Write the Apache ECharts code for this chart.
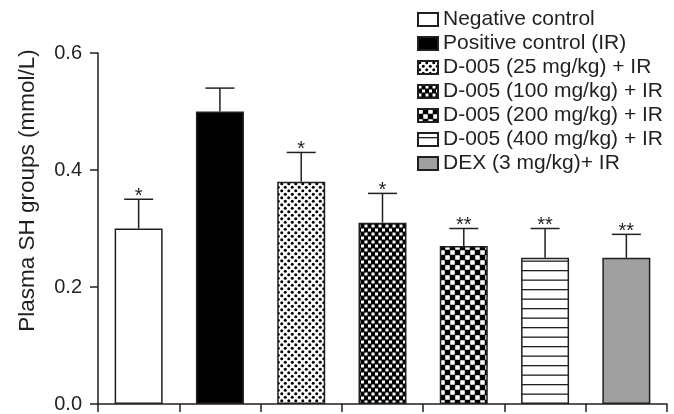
<!DOCTYPE html>
<html>
<head>
<meta charset="utf-8">
<title>Plasma SH groups</title>
<script src="https://cdn.jsdelivr.net/npm/echarts@6/dist/echarts.min.js"></script>
<style>
  html, body { margin: 0; padding: 0; background: #ffffff; }
  #chart { width: 674px; height: 414px; }
</style>
</head>
<body>
<div id="chart"></div>
<script>
// Group names, means, error (upper minus mean), significance marks
const groups = [
  'Negative control',
  'Positive control (IR)',
  'D-005 (25 mg/kg) + IR',
  'D-005 (100 mg/kg) + IR',
  'D-005 (200 mg/kg) + IR',
  'D-005 (400 mg/kg) + IR',
  'DEX (3 mg/kg)+ IR'
];
const means = [0.30, 0.50, 0.38, 0.31, 0.27, 0.25, 0.25];
const errors = [0.05, 0.04, 0.05, 0.05, 0.03, 0.05, 0.04];
const marks = ['*', '', '*', '*', '**', '**', '**'];
const yTicks = [0.0, 0.2, 0.4, 0.6];

const INK = '#231f20';
const FONT = '"Liberation Sans", Arial, Helvetica, sans-serif';

// Small canvas tiles used as repeating fills
function tile(w, h, bg, draw) {
  const c = document.createElement('canvas');
  c.width = w; c.height = h;
  const ctx = c.getContext('2d');
  ctx.fillStyle = bg;
  ctx.fillRect(0, 0, w, h);
  draw(ctx);
  return { image: c, repeat: 'repeat' };
}

const fills = [
  '#ffffff',
  '#000000',
  // fine staggered dots
  tile(7, 7, '#ffffff', ctx => {
    ctx.fillStyle = '#000000';
    [[1.75, 1.75], [5.25, 5.25]].forEach(([x, y]) => {
      ctx.beginPath(); ctx.arc(x, y, 1.5, 0, Math.PI * 2); ctx.fill();
    });
  }),
  // small white squares on black
  tile(7, 8, '#000000', ctx => {
    ctx.fillStyle = '#ffffff';
    ctx.fillRect(0.5, 0.5, 3, 3);
    ctx.fillRect(4, 4.5, 3, 3);
  }),
  // coarse check
  tile(10, 10, '#000000', ctx => {
    ctx.fillStyle = '#ffffff';
    ctx.fillRect(0.25, 0.25, 4.5, 4.5);
    ctx.fillRect(5.25, 5.25, 4.5, 4.5);
  }),
  // horizontal lines
  tile(4, 19, '#ffffff', ctx => {
    ctx.fillStyle = INK;
    ctx.fillRect(0, 4, 4, 1.3);
    ctx.fillRect(0, 13.5, 4, 1.3);
  }),
  '#a0a0a0'
];

const barSeries = groups.map((name, i) => ({
  name: name,
  type: 'bar',
  barWidth: 48,
  barGap: '-100%',
  itemStyle: { color: fills[i], borderColor: INK, borderWidth: 1.5 },
  data: groups.map((_, j) => (j === i ? means[j] : null)),
  z: 2
}));

const errorSeries = {
  type: 'custom',
  name: 'error',
  z: 3,
  silent: true,
  data: means.map((m, i) => [i, m, m + errors[i], marks[i]]),
  renderItem: function (params, api) {
    const base = api.coord([api.value(0), api.value(1)]);
    const top = api.coord([api.value(0), api.value(2)]);
    const half = 14.5;
    const style = { stroke: INK, lineWidth: 1.5 };
    const children = [
      { type: 'line', shape: { x1: base[0], y1: base[1], x2: top[0], y2: top[1] }, style: style },
      { type: 'line', shape: { x1: top[0] - half, y1: top[1], x2: top[0] + half, y2: top[1] }, style: style }
    ];
    const mark = marks[params.dataIndex];
    if (mark) {
      children.push({
        type: 'text',
        style: {
          text: mark,
          x: top[0],
          y: top[1] + 7,
          align: 'center',
          verticalAlign: 'bottom',
          fill: INK,
          font: '20px ' + FONT
        }
      });
    }
    return { type: 'group', children: children };
  }
};

const chart = echarts.init(document.getElementById('chart'), null, { renderer: 'canvas' });
chart.setOption({
  animation: false,
  backgroundColor: '#ffffff',
  textStyle: { fontFamily: FONT, color: INK },
  grid: { left: 98, right: 7, top: 53, bottom: 7, containLabel: false },
  legend: {
    orient: 'vertical',
    left: 417,
    top: 9,
    padding: 0,
    itemWidth: 20,
    itemHeight: 13,
    itemGap: 3,
    icon: 'rect',
    selectedMode: false,
    data: groups,
    textStyle: { fontSize: 21, lineHeight: 21, color: INK, fontFamily: FONT }
  },
  xAxis: {
    type: 'category',
    data: groups,
    boundaryGap: true,
    axisLine: { lineStyle: { color: INK, width: 1.5 } },
    axisTick: { show: true, interval: 0, length: 8, lineStyle: { color: INK, width: 1.5 } },
    axisLabel: { show: false, interval: 0 },
    splitLine: { show: false }
  },
  yAxis: {
    type: 'value',
    min: yTicks[0],
    max: yTicks[yTicks.length - 1],
    interval: 0.2,
    name: 'Plasma SH groups (mmol/L)',
    nameLocation: 'middle',
    nameGap: 59,
    nameTextStyle: { fontSize: 22.5, color: INK, fontFamily: FONT, padding: [0, 0, 0, 76] },
    axisLine: { show: true, lineStyle: { color: INK, width: 1.5 } },
    axisTick: { show: true, length: 8, lineStyle: { color: INK, width: 1.5 } },
    axisLabel: {
      margin: 16,
      fontSize: 20,
      color: INK,
      fontFamily: FONT,
      formatter: v => v.toFixed(1)
    },
    splitLine: { show: false }
  },
  series: barSeries.concat([errorSeries])
});
</script>
</body>
</html>
